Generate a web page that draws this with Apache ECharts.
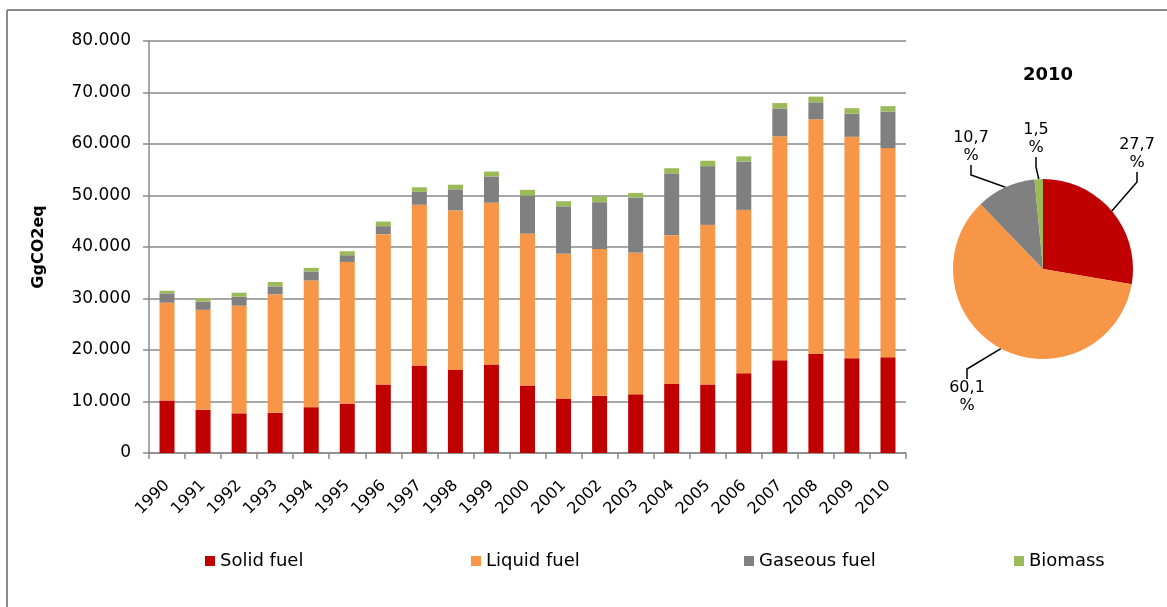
<!DOCTYPE html>
<html>
<head>
<meta charset="utf-8">
<script src="https://cdn.jsdelivr.net/npm/echarts@6/dist/echarts.min.js"></script>
<style>
  html, body { margin: 0; padding: 0; background: #fff; }
  #chart { width: 1167px; height: 607px; }
</style>
</head>
<body>
<div id="chart"></div>
<script>
// ---- data ----
const years = ['1990','1991','1992','1993','1994','1995','1996','1997','1998','1999','2000',
               '2001','2002','2003','2004','2005','2006','2007','2008','2009','2010'];
const solidFuel   = [10200, 8400, 7700, 7800, 8900, 9600, 13300, 17000, 16100, 17200, 13100,
                     10500, 11100, 11400, 13400, 13300, 15500, 18000, 19200, 18400, 18600];
const liquidFuel  = [19000, 19400, 20900, 23000, 24600, 27500, 29200, 31200, 31000, 31400, 29500,
                     28200, 28500, 27500, 28900, 31000, 31700, 43500, 45600, 43000, 40600];
const gaseousFuel = [1800, 1600, 1750, 1550, 1750, 1300, 1550, 2500, 4100, 5100, 7400,
                     9200, 9100, 10700, 12000, 11400, 9400, 5400, 3300, 4500, 7100];
const biomass     = [500, 650, 780, 850, 700, 780, 900, 900, 900, 950, 1100,
                     1000, 1100, 900, 1000, 1050, 1000, 1050, 1100, 1050, 1050];
const seriesNames = ['Solid fuel', 'Liquid fuel', 'Gaseous fuel', 'Biomass'];
const pieYear = '2010';
const pie2010 = [27.7, 60.1, 10.7, 1.5];
const yTicks = { min: 0, max: 80000, interval: 10000 };

// ---- style ----
const colors = ['#C00000', '#F79646', '#808080', '#9BBB59'];
const axisGray = '#8a8a8a';
const font = "'DejaVu Sans', sans-serif";

const chart = echarts.init(document.getElementById('chart'), null, { renderer: 'canvas' });

function fmtThousands(v) {
  if (v === 0) return '0';
  return String(v).replace(/\B(?=(\d{3})+(?!\d))/g, '.');
}

const pieLabelPos = [
  { x: 1137, y: 154 },
  { x: 967, y: 397 },
  { x: 971, y: 147 },
  { x: 1036, y: 139 }
];

const barSeries = seriesNames.map((name, i) => ({
  name: name,
  type: 'bar',
  stack: 'total',
  barWidth: 15,
  itemStyle: { color: colors[i] },
  data: [solidFuel, liquidFuel, gaseousFuel, biomass][i]
}));

const legendLefts = [200, 466, 739, 1009];

const option = {
  animation: false,
  textStyle: { fontFamily: font },
  title: {
    text: pieYear,
    left: 1043,
    top: 61,
    textAlign: 'center',
    textStyle: { fontSize: 18, fontWeight: 'bold', color: '#000', fontFamily: font }
  },
  legend: seriesNames.map((name, i) => ({
    data: [name],
    left: legendLefts[i],
    top: 547,
    icon: 'rect',
    itemWidth: 10,
    itemHeight: 10,
    itemGap: 6,
    textStyle: { fontSize: 18, color: '#000', fontFamily: font },
    selectedMode: false
  })),
  grid: { left: 149, right: 261, top: 41, bottom: 154, containLabel: false },
  xAxis: {
    type: 'category',
    data: years,
    axisLine: { lineStyle: { color: axisGray, width: 1.5 } },
    axisTick: { show: true, length: 6, lineStyle: { color: axisGray, width: 1.5 } },
    axisLabel: { rotate: 45, fontSize: 16, color: '#000', margin: 30, fontFamily: font, interval: 0 }
  },
  yAxis: {
    type: 'value',
    min: yTicks.min,
    max: yTicks.max,
    interval: yTicks.interval,
    name: 'GgCO2eq',
    nameLocation: 'middle',
    nameRotate: 90,
    nameGap: 102,
    nameTextStyle: { fontSize: 16, fontWeight: 'bold', color: '#000', fontFamily: font },
    axisLine: { show: true, lineStyle: { color: axisGray, width: 1.5 } },
    axisTick: { show: true, length: 6, lineStyle: { color: axisGray, width: 1.5 } },
    splitLine: { lineStyle: { color: axisGray, width: 1.5 } },
    axisLabel: { fontSize: 17, color: '#000', margin: 18, fontFamily: font, formatter: fmtThousands }
  },
  series: barSeries.concat([{
    name: pieYear,
    type: 'pie',
    center: [1043, 269],
    radius: 90,
    startAngle: 90,
    clockwise: true,
    legendHoverLink: false,
    data: seriesNames.map((n, i) => ({ name: n, value: pie2010[i], itemStyle: { color: colors[i] } })),
    label: {
      show: true,
      fontSize: 16,
      color: '#000',
      fontFamily: font,
      lineHeight: 18,
      align: 'center',
      overflow: 'none',
      width: 60,
      formatter: p => String(p.value).replace('.', ',') + '\n%'
    },
    labelLine: { show: true, length: 12, length2: 10, lineStyle: { color: '#000', width: 1.5 } },
    labelLayout: function (params) {
      const p = pieLabelPos[params.dataIndex];
      return { x: p.x, y: p.y, align: 'center', verticalAlign: 'middle' };
    }
  }]),
  graphic: [
    { type: 'line', shape: { x1: 7, y1: 10, x2: 1167, y2: 10 }, style: { stroke: '#8a8a8a', lineWidth: 2 } },
    { type: 'line', shape: { x1: 7, y1: 10, x2: 7, y2: 607 }, style: { stroke: '#8a8a8a', lineWidth: 2 } }
  ]
};

chart.setOption(option);
</script>
</body>
</html>
